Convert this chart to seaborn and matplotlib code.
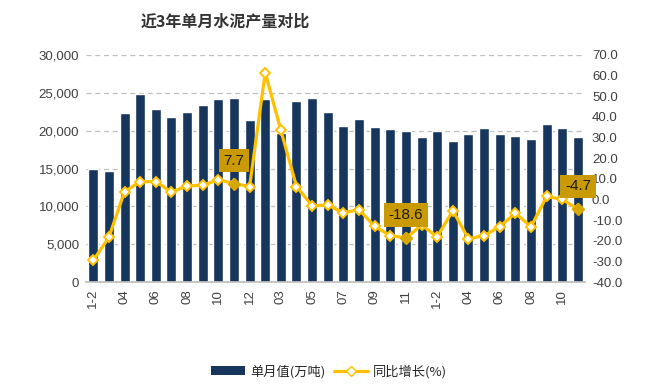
import numpy as np
import pandas as pd
import matplotlib
matplotlib.use("Agg")
import matplotlib.pyplot as plt
from matplotlib.patches import Patch
from matplotlib.lines import Line2D
import seaborn as sns

# ---- data ----
months = ["1-2", "03", "04", "05", "06", "07", "08", "09", "10", "11", "12",
          "1-2", "03", "04", "05", "06", "07", "08", "09", "10", "11", "12",
          "1-2", "03", "04", "05", "06", "07", "08", "09", "10", "11"]
years = [2020] * 11 + [2021] * 11 + [2022] * 10
monthly = [15000, 14700, 22300, 24820, 22830, 21770, 22430, 23360, 24160, 24290, 21370,
           24160, 19650, 23900, 24290, 22430, 20580, 21500, 20440, 20180, 19910, 19110,
           19910, 18580, 19510, 20310, 19510, 19250, 18850, 20840, 20310, 19110]
yoy = [-29.5, -18.3, 3.8, 8.6, 8.7, 3.6, 6.6, 6.9, 9.6, 7.7, 6.3,
       61.5, 33.5, 6.3, -3.0, -2.7, -6.4, -4.9, -13.0, -17.5, -18.6, -12.4,
       -18.0, -5.4, -19.0, -17.5, -13.1, -6.6, -13.2, 1.5, 0.1, -4.7]
labeled_idx = [9, 20, 31]

sns.set_theme(style="white")
plt.rcParams['font.family'] = ['Liberation Sans', 'Noto Sans CJK SC', 'DejaVu Sans']

NAVY = "#17365D"
GOLD = "#FFC000"
BOX = "#C99A04"
TXT = "#404040"

df = pd.DataFrame({"key": [f"{y}-{m}" for y, m in zip(years, months)],
                   "value": monthly})
n = len(df)

fig = plt.figure(figsize=(6.58, 3.87), dpi=100)
ax = fig.add_axes([0.131, 0.271, 0.758, 0.587])
sns.barplot(data=df, x="key", y="value", color=NAVY, width=0.64, ax=ax,
            saturation=1, order=df["key"].tolist())
ax.set_ylim(0, 30000)
ax.set_xlim(-0.45, n - 0.55)
ax.set_yticks(np.arange(0, 30001, 5000))
ax.set_yticklabels([f"{v:,}" for v in range(0, 30001, 5000)], fontsize=9.5, color=TXT)
ax.yaxis.grid(True, linestyle=(0, (4, 3)), color="#BFBFBF", linewidth=0.9)
ax.set_axisbelow(True)
ax.set_xticks(np.arange(0, n, 2))
ax.set_xticklabels(months[::2], rotation=90, fontsize=9.5, color=TXT)
ax.set_xlabel("")
ax.set_ylabel("")
for s in ["top", "right", "left"]:
    ax.spines[s].set_visible(False)
ax.spines["bottom"].set_color("#BFBFBF")
ax.tick_params(axis="both", length=0, pad=5)

ax2 = ax.twinx()
xs = np.arange(n)
sns.lineplot(x=xs, y=yoy, ax=ax2, color=GOLD, linewidth=2.3, marker="D",
             markersize=5.5, markerfacecolor="white", markeredgecolor=GOLD,
             markeredgewidth=1.4)
ax2.plot([xs[i] for i in labeled_idx], [yoy[i] for i in labeled_idx], "D",
         color="#D9A800", markersize=6, markeredgecolor="#D9A800")
ax2.set_ylim(-40, 70)
ax2.set_yticks(np.arange(-40, 71, 10))
ax2.set_yticklabels([f"{v:.1f}" for v in range(-40, 71, 10)], fontsize=9.5, color=TXT)
ax2.set_ylabel("")
for s in ["top", "right", "left", "bottom"]:
    ax2.spines[s].set_visible(False)
ax2.tick_params(axis="y", length=0, pad=5)
ax2.grid(False)

for i in labeled_idx:
    ax2.annotate(f"{yoy[i]}", (xs[i], yoy[i]), xytext=(0, 16.5),
                 textcoords="offset points", ha="center", va="center",
                 fontsize=11, color="#1a1a1a",
                 bbox=dict(boxstyle="square,pad=0.3", fc=BOX, ec="none"))

fig.text(0.342, 0.943, "近3年单月水泥产量对比", ha="center", va="center",
         fontsize=11.5, fontweight="bold", color="#333333",
         family=['Noto Sans CJK SC', 'DejaVu Sans'])

handles = [Patch(facecolor=NAVY, edgecolor="none"),
           Line2D([0], [0], color=GOLD, linewidth=2.3, marker="D", markersize=5.5,
                  markerfacecolor="white", markeredgecolor=GOLD)]
fig.legend(handles, ["单月值(万吨)", "同比增长(%)"], loc="center",
           bbox_to_anchor=(0.5, 0.04), ncol=2, frameon=False,
           handlelength=2.6, handleheight=0.7, columnspacing=0.6, handletextpad=0.4,
           prop={'family': ['Noto Sans CJK SC', 'DejaVu Sans'], 'size': 9.5})

fig.savefig("out.png", dpi=100)
